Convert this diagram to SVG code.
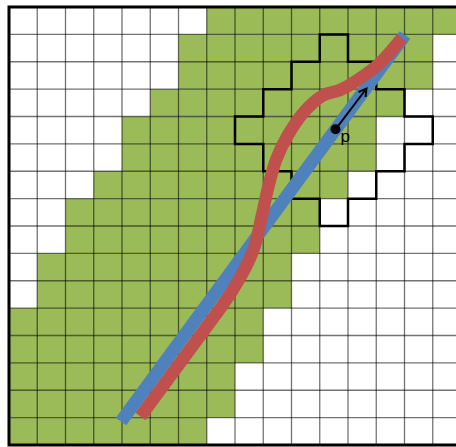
<svg xmlns="http://www.w3.org/2000/svg" width="456" height="447" viewBox="0 0 456 447">
  <style>
    .cell { fill: #9bbb59; }
    .grid { stroke: #000; stroke-opacity: 0.55; stroke-width: 1.3; fill: none; }
    .border { stroke: #000; stroke-width: 3; fill: none; }
    .hood { stroke: #000; stroke-width: 2.5; fill: none; stroke-linejoin: miter; }
    .path-blue { stroke: #4f81bd; stroke-width: 13; fill: none; stroke-linecap: butt; }
    .path-red { stroke: #c0504d; stroke-width: 12.5; fill: none; stroke-linecap: butt; stroke-linejoin: round; }
    .label { font-family: "Liberation Sans", Arial, sans-serif; font-size: 17px; fill: #000; }
  </style>
  <rect x="0" y="0" width="456" height="447" fill="#fff"/>
  <g id="free-space">
    <rect class="cell" x="206.75" y="7" width="254.25" height="27.375"/>
    <rect class="cell" x="178.5" y="34.375" width="254.25" height="27.375"/>
    <rect class="cell" x="178.5" y="61.75" width="254.25" height="27.375"/>
    <rect class="cell" x="150.25" y="89.125" width="254.25" height="27.375"/>
    <rect class="cell" x="122" y="116.5" width="254.25" height="27.375"/>
    <rect class="cell" x="122" y="143.875" width="254.25" height="27.375"/>
    <rect class="cell" x="93.75" y="171.25" width="254.25" height="27.375"/>
    <rect class="cell" x="65.5" y="198.625" width="254.25" height="27.375"/>
    <rect class="cell" x="65.5" y="226" width="254.25" height="27.375"/>
    <rect class="cell" x="37.25" y="253.375" width="254.25" height="27.375"/>
    <rect class="cell" x="37.25" y="280.75" width="254.25" height="27.375"/>
    <rect class="cell" x="9" y="308.125" width="254.25" height="27.375"/>
    <rect class="cell" x="9" y="335.5" width="254.25" height="27.375"/>
    <rect class="cell" x="9" y="362.875" width="226" height="27.375"/>
    <rect class="cell" x="9" y="390.25" width="226" height="27.375"/>
    <rect class="cell" x="9" y="417.625" width="197.75" height="27.375"/>
  </g>
  <g id="grid" class="grid">
    <path d="M37.25,7V445M65.5,7V445M93.75,7V445M122,7V445M150.25,7V445M178.5,7V445M206.75,7V445M235,7V445M263.25,7V445M291.5,7V445M319.75,7V445M348,7V445M376.25,7V445M404.5,7V445M432.75,7V445"/>
    <path d="M9,34.375H456M9,61.75H456M9,89.125H456M9,116.5H456M9,143.875H456M9,171.25H456M9,198.625H456M9,226H456M9,253.375H456M9,280.75H456M9,308.125H456M9,335.5H456M9,362.875H456M9,390.25H456M9,417.625H456"/>
  </g>
  <g id="frame" class="border">
    <path d="M456,7H9V445H456"/>
  </g>
  <g id="neighbourhood" class="hood">
    <path d="M319.75,34.375H348V61.75H376.25V89.125H404.5V116.5H432.75V143.875H404.5V171.25H376.25V198.625H348V226H319.75V198.625H291.5V171.25H263.25V143.875H235V116.5H263.25V89.125H291.5V61.75H319.75Z"/>
  </g>
  <g id="connectors">
    <path id="straight-path" class="path-blue" d="M121,421.5L405,35"/>
    <path id="curved-path" class="path-red" d="M140.5,416.5 L222,306 C234,289.7 249,264 255,245 C258,235.3 259.8,224.5 262,215 C264.2,205.5 265.7,197.2 268,188 C270.3,178.8 272.7,168.8 276,160 C279.3,151.2 283.3,143 288,135 C292.7,127 298.3,118.5 304,112 C309.7,105.5 316,99.7 322,96 C328,92.3 334.3,92.5 340,90 C345.7,87.5 349.3,85.5 356,81 C362.7,76.5 372.3,70.2 380,63 C387.7,55.8 398.3,42.2 402,38"/>
    <g id="direction-arrow" stroke="#000" stroke-width="2" fill="none">
      <line x1="335.5" y1="129.3" x2="366.5" y2="88.5"/>
      <polyline points="358.5,92 366.5,88.5 365.5,97" stroke-linejoin="miter"/>
    </g>
  </g>
  <g id="point-p">
    <circle cx="335.5" cy="129.3" r="5" fill="#000"/>
    <text class="label" x="340.5" y="142">p</text>
  </g>
</svg>
